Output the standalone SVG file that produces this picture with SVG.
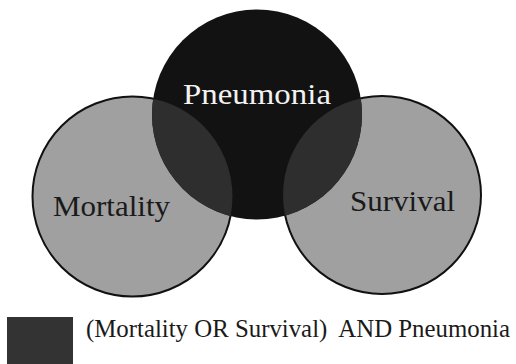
<svg xmlns="http://www.w3.org/2000/svg" width="516" height="364" viewBox="0 0 516 364">
  <style>
    .set { fill: #a0a0a0; stroke: #111; stroke-width: 2; }
    .core { fill: #121212; }
    .both { fill: #2e2e2e; }
    .lbl { font-family: "Liberation Serif", "Times New Roman", serif; font-size: 29px; }
    .key { font-size: 25px; }
    .dark { fill: #1a1a1a; }
    .light { fill: #f2f2f2; }
  </style>
  <defs>
    <clipPath id="clipMortality"><circle cx="132.5" cy="196.5" r="100"/></clipPath>
    <clipPath id="clipSurvival"><circle cx="382" cy="195" r="99"/></clipPath>
  </defs>

  <rect width="516" height="364" fill="#fff"/>

  <g id="mortality">
    <circle class="set" cx="132.5" cy="196.5" r="100"/>
  </g>
  <g id="survival">
    <circle class="set" cx="382" cy="195" r="99"/>
  </g>
  <g id="pneumonia">
    <circle class="core" cx="257" cy="114.5" r="105"/>
  </g>

  <!-- intersections of each outcome set with pneumonia -->
  <g id="overlaps">
    <circle class="both" cx="257" cy="114.5" r="105" clip-path="url(#clipMortality)"/>
    <circle class="both" cx="257" cy="114.5" r="105" clip-path="url(#clipSurvival)"/>
  </g>

  <g id="labels">
    <text class="lbl light" x="183" y="104" textLength="148" lengthAdjust="spacingAndGlyphs">Pneumonia</text>
    <text class="lbl dark" x="53" y="216" textLength="117" lengthAdjust="spacingAndGlyphs">Mortality</text>
    <text class="lbl dark" x="350" y="211" textLength="105" lengthAdjust="spacingAndGlyphs">Survival</text>
  </g>

  <g id="legend">
    <rect x="7" y="317" width="66" height="50" fill="#333"/>
    <text class="lbl key dark" x="86" y="337" xml:space="preserve" textLength="424" lengthAdjust="spacingAndGlyphs">(Mortality OR Survival)  AND Pneumonia</text>
  </g>
</svg>
